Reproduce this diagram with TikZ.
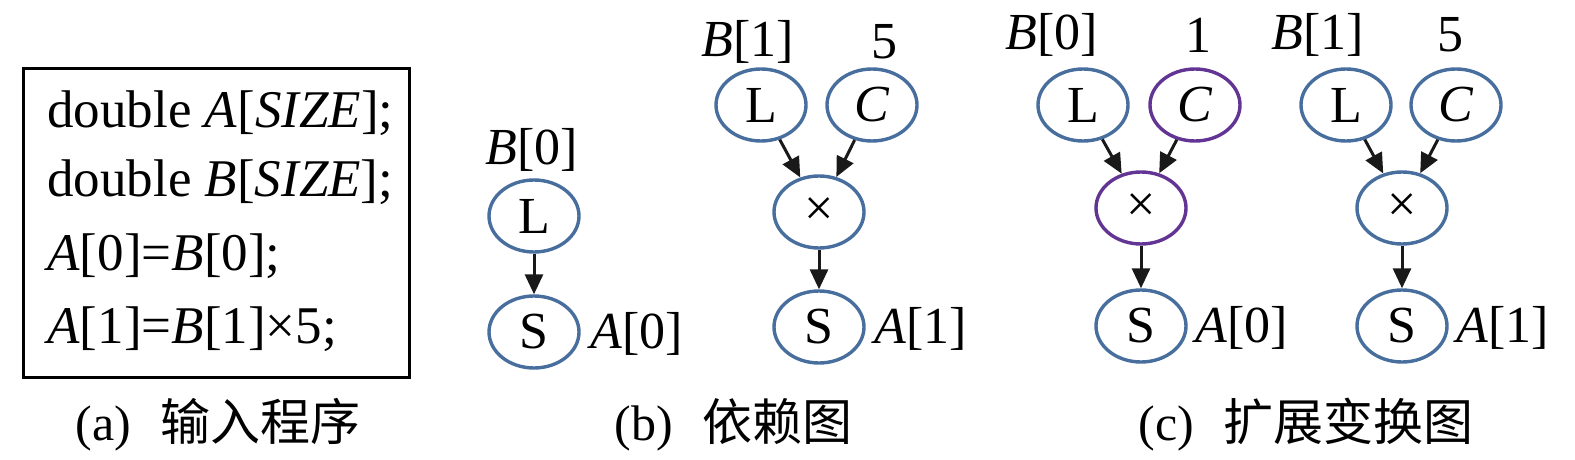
\documentclass[tikz,border=0pt]{standalone}
\usepackage{fontspec}
\setmainfont{Liberation Serif}
\newfontfamily\cjk{Noto Sans CJK SC}
\usetikzlibrary{shapes.geometric,arrows.meta}
\definecolor{nblue}{RGB}{72,110,158}
\definecolor{npurple}{RGB}{98,52,148}
\tikzset{
  gnode/.style={ellipse, draw=nblue, line width=1.7pt, minimum width=45pt, minimum height=36pt, inner sep=0pt, font=\fontsize{26}{30}\selectfont},
  pnode/.style={gnode, draw=npurple},
  lbl/.style={font=\fontsize{26}{30}\selectfont, inner sep=0pt},
  code/.style={anchor=base west, font=\fontsize{26.5}{32}\selectfont, inner sep=0pt},
  captext/.style={font=\fontsize{25}{30}\selectfont, inner sep=0pt},
  arr/.style={-{Triangle[length=10pt,width=9pt]}, line width=1.5pt, black!90}
}
\begin{document}
\begin{tikzpicture}[x=0.5pt,y=-0.5pt]
\useasboundingbox (0,0) rectangle (1575,460);
% (a)
\node[draw, line width=1.5pt, minimum width=193pt, minimum height=154pt, inner sep=0pt] (box) at (216,223) {};
\node[code] (c1) at (47,128) {double \textit{A}[\textit{SIZE}];};
\node[code] (c2) at (47,197) {double \textit{B}[\textit{SIZE}];};
\node[code] (c3) at (47,270) {\textit{A}[0]=\textit{B}[0];};
\node[code] (c4) at (47,343) {\textit{A}[1]=\textit{B}[1]×5;};
\node[captext, anchor=west] (capa) at (75,425) {(a)\hspace{0.6em}{\cjk 输入程序}};
% (b) graph 1
\node[lbl] (b1l) at (532,150) {\textit{B}[0]};
\node[gnode] (b1L) at (534,216) {L};
\node[gnode] (b1S) at (534,332) {S};
\node[lbl, anchor=west] (b1a) at (590,334) {\textit{A}[0]};
\draw[arr] (b1L) -- (b1S);
% (b) graph 2
\node[lbl] (b2l) at (748,42) {\textit{B}[1]};
\node[lbl] (b2c) at (884,42) {5};
\node[gnode] (b2L) at (761,105) {L};
\node[gnode] (b2C) at (872,105) {\textit{C}};
\node[gnode] (b2X) at (819,212) {×};
\node[gnode] (b2S) at (819,327) {S};
\node[lbl, anchor=west] (b2a) at (874,329) {\textit{A}[1]};
\draw[arr] (b2L) -- (b2X);
\draw[arr] (b2C) -- (b2X);
\draw[arr] (b2X) -- (b2S);
\node[captext, anchor=west] (capb) at (614,425) {(b)\hspace{0.6em}{\cjk 依赖图}};
% (c) graph 1
\node[lbl] (c1l) at (1052,35) {\textit{B}[0]};
\node[lbl] (c1c) at (1198,35) {1};
\node[gnode] (c1L) at (1083,105) {L};
\node[pnode] (c1C) at (1195,105) {\textit{C}};
\node[pnode] (c1X) at (1141,208) {×};
\node[gnode] (c1S) at (1141,326) {S};
\node[lbl, anchor=west] (c1a) at (1195,328) {\textit{A}[0]};
\draw[arr] (c1L) -- (c1X);
\draw[arr] (c1C) -- (c1X);
\draw[arr] (c1X) -- (c1S);
% (c) graph 2
\node[lbl] (c2l) at (1318,35) {\textit{B}[1]};
\node[lbl] (c2c) at (1450,35) {5};
\node[gnode] (c2L) at (1346,105) {L};
\node[gnode] (c2C) at (1456,105) {\textit{C}};
\node[gnode] (c2X) at (1402,208) {×};
\node[gnode] (c2S) at (1402,326) {S};
\node[lbl, anchor=west] (c2a) at (1456,328) {\textit{A}[1]};
\draw[arr] (c2L) -- (c2X);
\draw[arr] (c2C) -- (c2X);
\draw[arr] (c2X) -- (c2S);
\node[captext, anchor=west] (capc) at (1138,425) {(c)\hspace{0.6em}{\cjk 扩展变换图}};
\end{tikzpicture}
\end{document}
